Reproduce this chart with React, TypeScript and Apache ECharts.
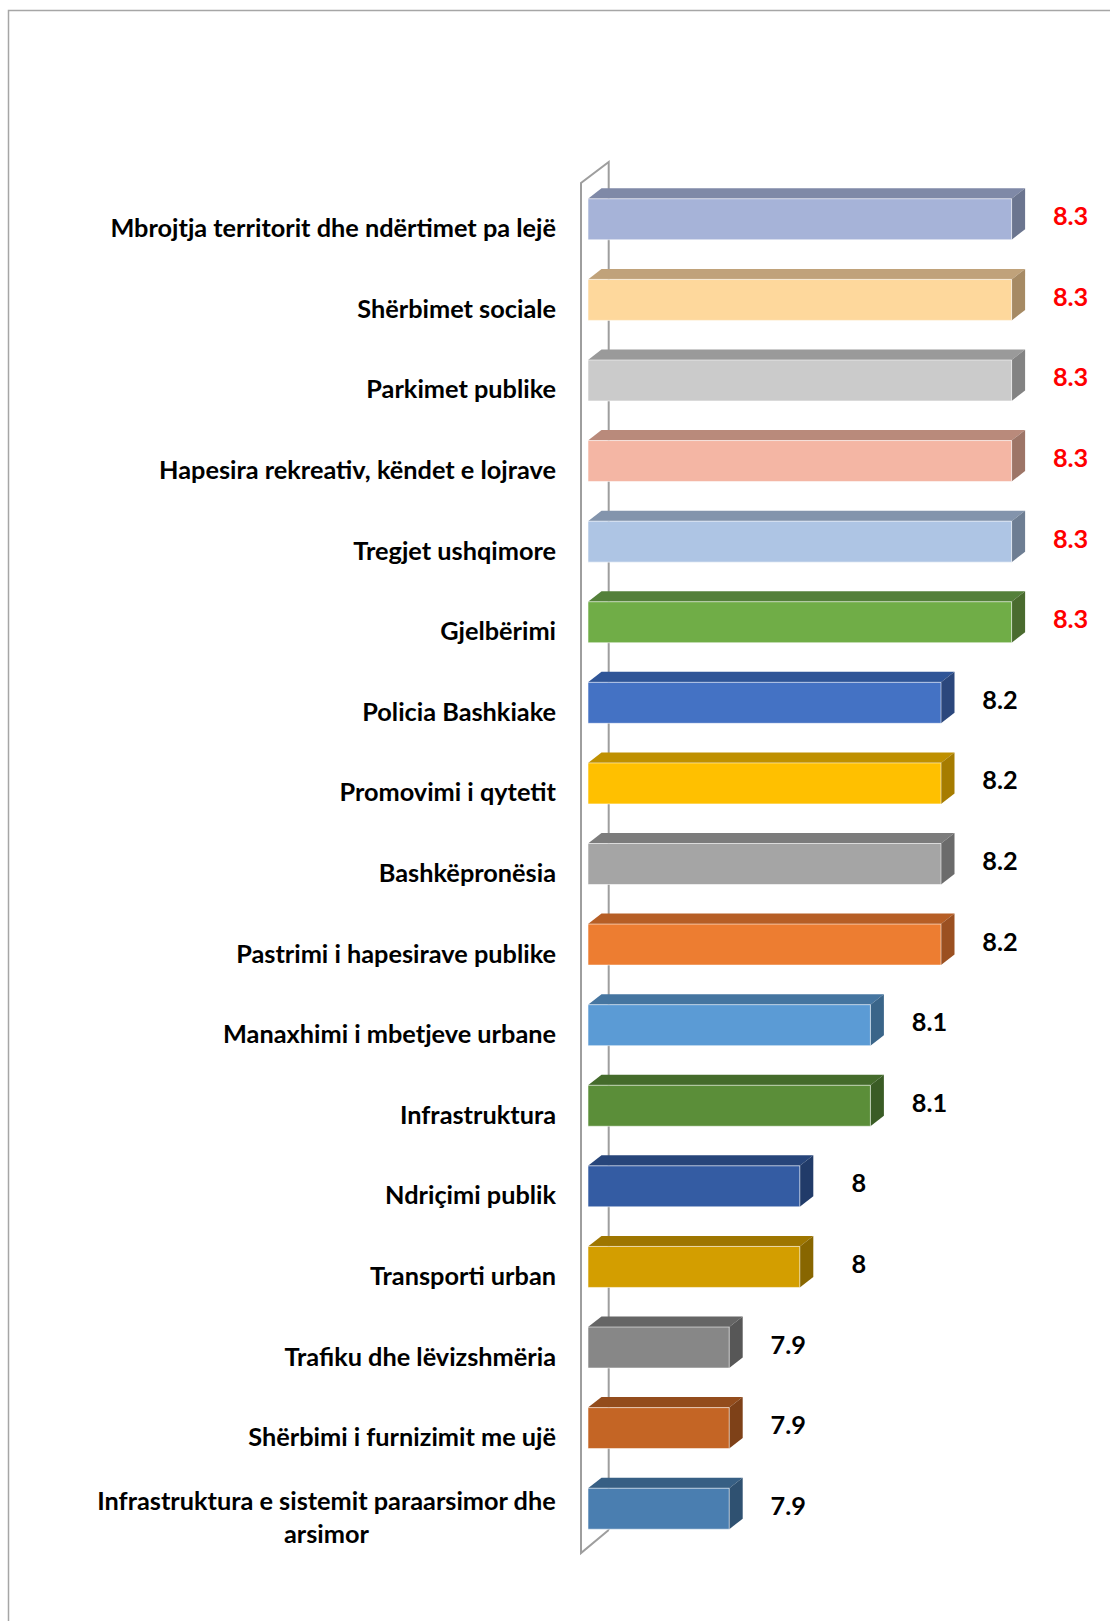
import React, { useEffect, useRef } from 'react';
import * as echarts from 'echarts';

const categories: string[] = [
  'Mbrojtja territorit dhe ndërtimet pa lejë',
  'Shërbimet sociale',
  'Parkimet publike',
  'Hapesira rekreativ, këndet e lojrave',
  'Tregjet ushqimore',
  'Gjelbërimi',
  'Policia Bashkiake',
  'Promovimi i qytetit',
  'Bashkëpronësia',
  'Pastrimi i hapesirave publike',
  'Manaxhimi i mbetjeve urbane',
  'Infrastruktura',
  'Ndriçimi publik',
  'Transporti urban',
  'Trafiku dhe lëvizshmëria',
  'Shërbimi i furnizimit me ujë',
  'Infrastruktura e sistemit paraarsimor dhe\narsimor',
];

const values: number[] = [8.3, 8.3, 8.3, 8.3, 8.3, 8.3, 8.2, 8.2, 8.2, 8.2, 8.1, 8.1, 8, 8, 7.9, 7.9, 7.9];

const frontColors: string[] = [
  '#A6B3D8', '#FED89C', '#CBCBCB', '#F4B6A4', '#AEC5E4', '#70AD47',
  '#4472C4', '#FFC000', '#A5A5A5', '#ED7D31', '#5B9BD5', '#5B8E39',
  '#345CA3', '#D39E00', '#878787', '#C46525', '#4A7EB0',
];
const topColors: string[] = [
  '#7F89A7', '#C0A27A', '#9A9A9A', '#B98A7B', '#8394AC', '#54803A',
  '#2F5597', '#BF9000', '#7C7C7C', '#B65E25', '#4575A0', '#446B2B',
  '#27457A', '#9E7600', '#656565', '#934C1C', '#375F84',
];
const sideColors: string[] = [
  '#6B758F', '#A68A64', '#838383', '#9D7567', '#6E7E93', '#4A6B2F',
  '#2B477C', '#A67C00', '#6B6B6B', '#9B5021', '#3A6589', '#3A5C25',
  '#213B69', '#886600', '#575757', '#7E4118', '#2F5171',
];

const axisMin = 7.7;
const axisMax = 8.4;
const FONT = 'Lato, "Open Sans", sans-serif';
const FONT_SIZE = 25.3;

export default function App() {
  const ref = useRef<HTMLDivElement>(null);

  useEffect(() => {
    if (!ref.current) return;
    const chart = echarts.init(ref.current, undefined, { renderer: 'svg' });
    const maxVal = Math.max(...values);
    const barH = 41;
    const dx = 13.5;
    const dy = -10.5;

    const option: any = {
      animation: false,
      backgroundColor: '#FFFFFF',
      graphic: [
        {
          type: 'rect',
          silent: true,
          z: -10,
          shape: { x: 8.5, y: 10.5, width: 1200, height: 1700 },
          style: { fill: 'none', stroke: '#A6A6A6', lineWidth: 1.5 },
        },
      ],
      grid: { left: 588, top: 179, width: 494.2, height: 1370 },
      xAxis: {
        type: 'value',
        min: axisMin,
        max: axisMax,
        show: false,
        splitLine: { show: false },
      },
      yAxis: {
        type: 'category',
        inverse: true,
        data: categories,
        axisLine: { show: false },
        axisTick: { show: false },
        splitLine: { show: false },
        axisLabel: {
          margin: 32,
          align: 'right',
          color: '#000000',
          fontFamily: FONT,
          fontWeight: 'bold',
          fontSize: FONT_SIZE,
          lineHeight: 33,
          padding: [16, 0, 0, 0],
          formatter: (v: string) =>
            v
              .split('\n')
              .map((s) => `{c|${s}}`)
              .join('\n'),
          rich: {
            c: {
              align: 'center',
              color: '#000000',
              fontFamily: FONT,
              fontWeight: 'bold',
              fontSize: FONT_SIZE,
              lineHeight: 33,
            },
          },
        },
      },
      series: [
        {
          type: 'custom',
          name: 'wall',
          silent: true,
          clip: false,
          z: 1,
          data: [[0, axisMin]],
          encode: { x: 1, y: 0 },
          renderItem: (params: any) => {
            const cs = params.coordSys;
            const fx = cs.x - 7;
            const bx = cs.x + 20.7;
            const fTop = cs.y + 4;
            const fBot = cs.y + cs.height + 4;
            const bTop = cs.y - 17;
            const bBot = cs.y + cs.height - 19;
            return {
              type: 'polyline',
              shape: {
                points: [
                  [bx, bBot],
                  [bx, bTop],
                  [fx, fTop],
                  [fx, fBot],
                  [bx, bBot],
                ],
              },
              style: { fill: 'none', stroke: '#9E9E9E', lineWidth: 2 },
            };
          },
        },
        {
          type: 'custom',
          name: 'scores',
          clip: false,
          z: 2,
          data: values.map((v, i) => [i, v]),
          encode: { x: 1, y: 0 },
          renderItem: (params: any, api: any) => {
            const i = api.value(0);
            const v = api.value(1);
            const p0 = api.coord([axisMin, i]);
            const p1 = api.coord([v, i]);
            const x0 = p0[0];
            const x1 = p1[0];
            const yT = p1[1] - barH / 2;
            const yB = p1[1] + barH / 2;
            return {
              type: 'group',
              children: [
                {
                  type: 'polygon',
                  shape: { points: [[x0, yT], [x0 + dx, yT + dy], [x1 + dx, yT + dy], [x1, yT]] },
                  style: { fill: topColors[i] },
                },
                {
                  type: 'polygon',
                  shape: { points: [[x1, yT], [x1 + dx, yT + dy], [x1 + dx, yB + dy], [x1, yB]] },
                  style: { fill: sideColors[i] },
                },
                {
                  type: 'rect',
                  shape: { x: x0, y: yT, width: x1 - x0, height: barH },
                  style: { fill: frontColors[i], stroke: 'rgba(255,255,255,0.55)', lineWidth: 1 },
                },
                {
                  type: 'text',
                  x: x1 + 59,
                  y: p1[1] - 4,
                  style: {
                    text: String(v),
                    fill: v >= maxVal ? '#FF0000' : '#000000',
                    fontFamily: FONT,
                    fontWeight: 'bold',
                    fontSize: FONT_SIZE,
                    align: 'center',
                    verticalAlign: 'middle',
                  },
                },
              ],
            };
          },
        },
      ],
    };

    chart.setOption(option);
    return () => {
      chart.dispose();
    };
  }, []);

  return (
    <div
      ref={ref}
      style={{ position: 'absolute', left: 0, top: 0, width: 1110, height: 1621 }}
    />
  );
}
